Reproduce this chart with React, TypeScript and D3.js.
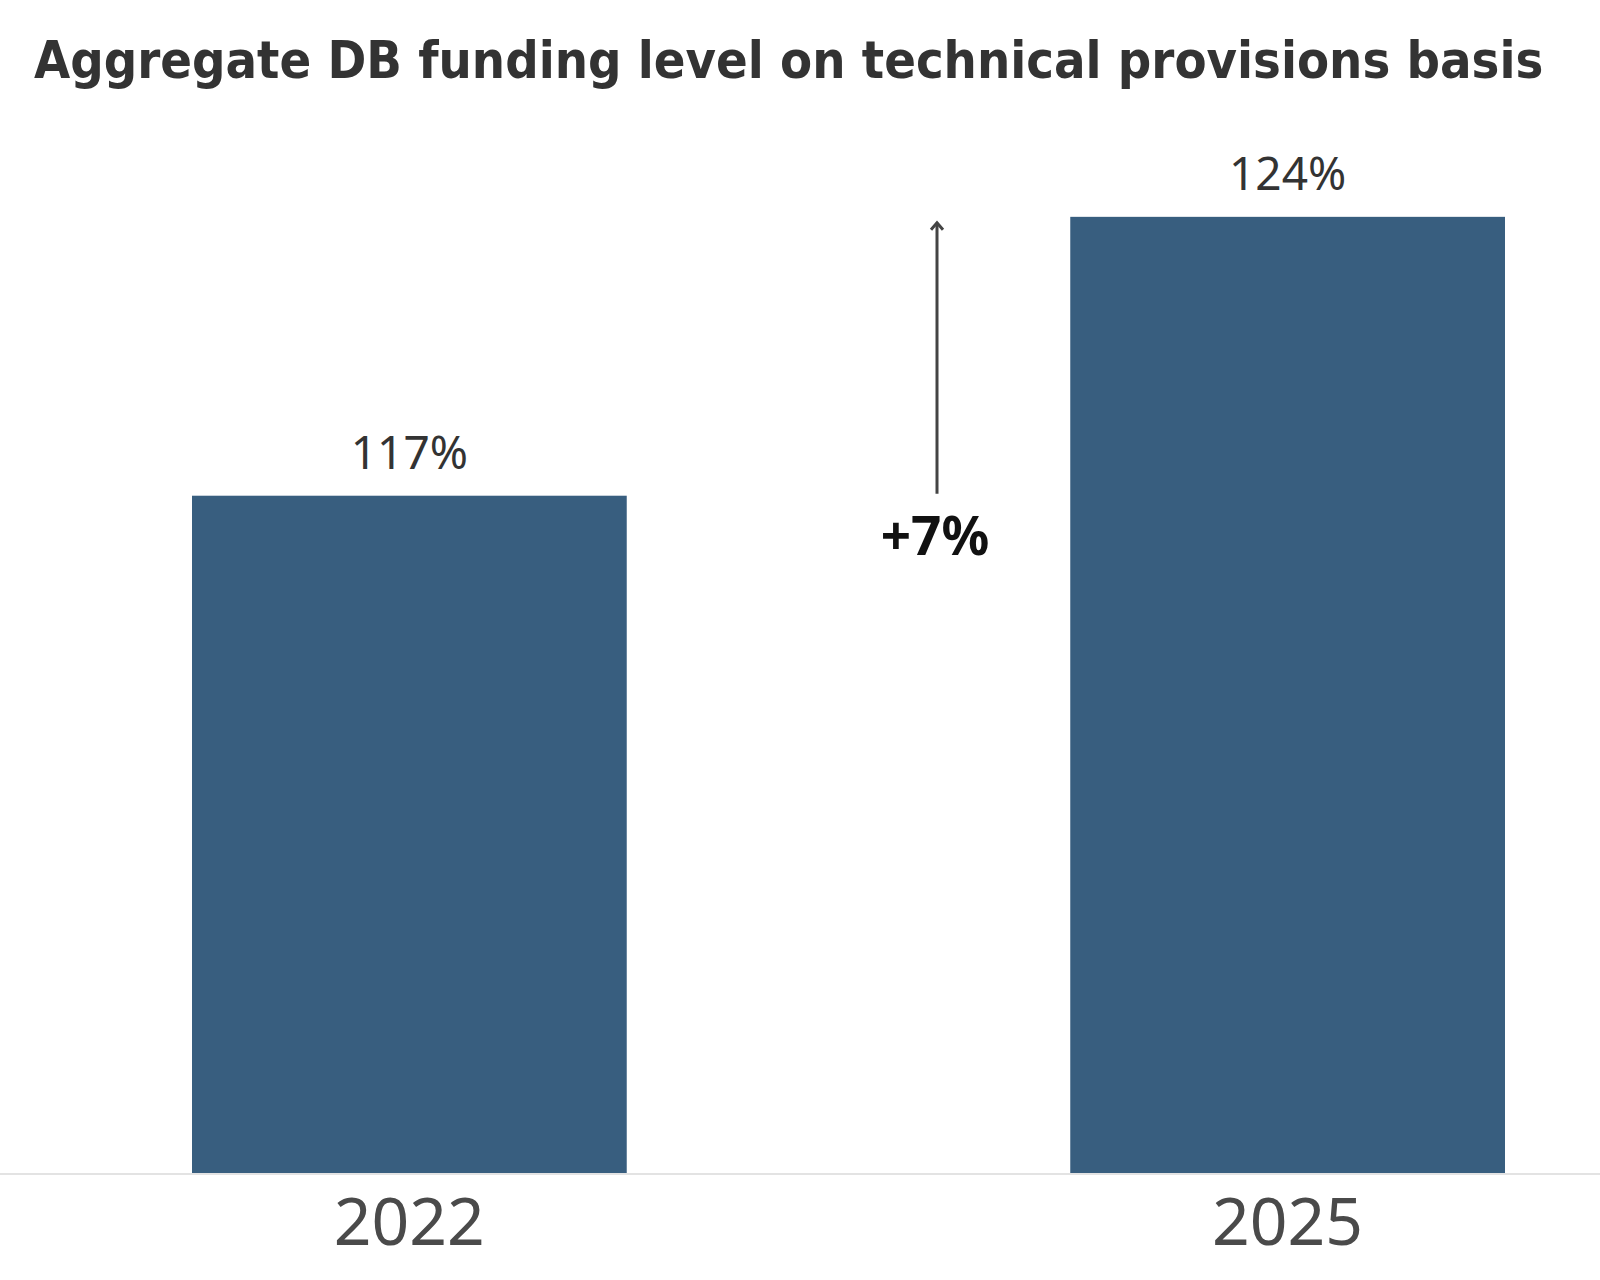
import { useEffect, useRef } from 'react';
import * as d3 from 'd3';

const years = ['2022', '2025'];
const fundingLevels = [117, 124];
const changeLabel = '+7%';
const chartTitle = 'Aggregate DB funding level on technical provisions basis';

const width = 1600;
const height = 1280;

export default function App() {
  const svgRef = useRef<SVGSVGElement>(null);

  useEffect(() => {
    if (!svgRef.current) return;
    const svg = d3.select(svgRef.current);
    svg.selectAll('*').remove();

    const font = '"Noto Sans", "Open Sans", sans-serif';

    const x = d3.scaleBand<string>()
      .domain(years)
      .range([192, 1505])
      .paddingInner(0.505)
      .paddingOuter(0);

    // axis starts at 100%, not zero
    const y = d3.scaleLinear().domain([100, 125]).range([1173, 177]);

    const data = years.map((yr, i) => ({ year: yr, value: fundingLevels[i] }));

    // 제목
    svg.append('text')
      .attr('x', 34)
      .attr('y', 78)
      .attr('fill', '#333')
      .attr('font-family', '"DejaVu Sans Condensed", "DejaVu Sans", sans-serif')
      .attr('font-weight', 700)
      .attr('font-size', '52px')
      .text(chartTitle);

    svg.append('g')
      .selectAll('rect')
      .data(data)
      .enter()
      .append('rect')
      .attr('x', d => x(d.year)!)
      .attr('y', d => y(d.value))
      .attr('width', x.bandwidth())
      .attr('height', d => y(100) - y(d.value))
      .attr('fill', '#385e7f');

    // baseline
    svg.append('line')
      .attr('x1', 0)
      .attr('x2', width)
      .attr('y1', y(100) + 1)
      .attr('y2', y(100) + 1)
      .attr('stroke', '#e3e3e3')
      .attr('stroke-width', 2);

    // value labels
    svg.append('g')
      .selectAll('text')
      .data(data)
      .enter()
      .append('text')
      .attr('x', d => x(d.year)! + x.bandwidth() / 2)
      .attr('y', d => y(d.value) - 27)
      .attr('text-anchor', 'middle')
      .attr('fill', '#333')
      .attr('font-family', font)
      .attr('font-size', '46px')
      .text(d => `${d.value}%`);

    // year labels
    svg.append('g')
      .selectAll('text')
      .data(data)
      .enter()
      .append('text')
      .attr('x', d => x(d.year)! + x.bandwidth() / 2)
      .attr('y', y(100) + 72)
      .attr('text-anchor', 'middle')
      .attr('fill', '#4a4a4a')
      .attr('font-family', font)
      .attr('font-size', '66px')
      .text(d => d.year);

    // change arrow
    const ax = 937;
    const yTop = y(fundingLevels[1]) + 6;
    const yBottom = y(fundingLevels[0]) - 2;
    svg.append('line')
      .attr('x1', ax)
      .attr('x2', ax)
      .attr('y1', yBottom)
      .attr('y2', yTop)
      .attr('stroke', '#444')
      .attr('stroke-width', 3);
    svg.append('path')
      .attr('d', `M${ax - 6},${yTop + 7} L${ax},${yTop} L${ax + 6},${yTop + 7}`)
      .attr('fill', 'none')
      .attr('stroke', '#444')
      .attr('stroke-width', 3);

    svg.append('text')
      .attr('x', ax - 2)
      .attr('y', yBottom + 61)
      .attr('text-anchor', 'middle')
      .attr('fill', '#111')
      .attr('font-family', font)
      .attr('font-weight', 700)
      .attr('font-size', '53px')
      .text(changeLabel);
  }, []);

  return (
    <svg
      ref={svgRef}
      width={width}
      height={height}
      style={{ position: 'absolute', left: 0, top: 0, background: 'white' }}
    />
  );
}
